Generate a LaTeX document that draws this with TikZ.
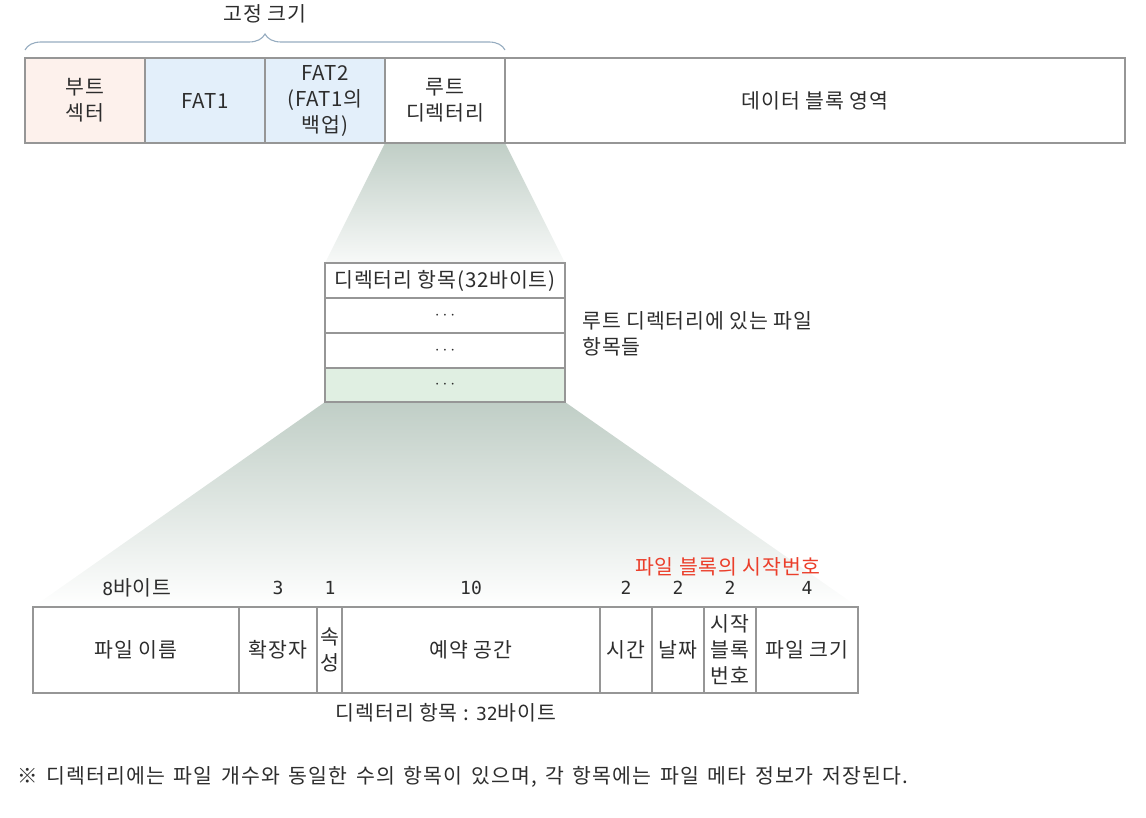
\documentclass[tikz,border=0pt]{standalone}
\usepackage{fontspec}
\setmainfont{Noto Sans CJK KR}[LetterSpace=4]
\newfontfamily\notefont{Noto Sans CJK KR}[LetterSpace=5.5,WordSpace=1.5]
\newfontfamily\numfont{DejaVu Sans Mono}
\usetikzlibrary{decorations.pathreplacing}
\definecolor{edge}{RGB}{150,150,150}
\definecolor{txt}{RGB}{45,45,45}
\definecolor{bootfill}{RGB}{253,241,236}
\definecolor{fatfill}{RGB}{227,239,250}
\definecolor{greenfill}{RGB}{224,239,226}
\definecolor{shd}{RGB}{192,206,198}
\definecolor{bracecol}{RGB}{150,172,192}
\definecolor{redtxt}{RGB}{235,62,42}
\begin{document}
\begin{tikzpicture}[x=1pt,y=-1pt,font=\fontsize{20.5}{26}\selectfont,text=txt,
  cellbox/.style={draw=edge,line width=1.8pt,inner sep=0pt,align=center},
  numlab/.style={font=\fontsize{18}{20}\selectfont\numfont}]
\useasboundingbox (0,0) rectangle (1146,818);

% zoom shadings
\shade[top color=shd,bottom color=white!88!shd] (385,143) -- (505,143) -- (565,263) -- (325,263) -- cycle;
\shade[top color=shd,bottom color=white] (325,402) -- (565,402) -- (858,607) -- (33,607) -- cycle;

% top bar
\node[cellbox,fill=bootfill,minimum width=120,minimum height=85] (boot) at (85,100.5) {부트\\섹터};
\node[cellbox,fill=fatfill,minimum width=120,minimum height=85] (fat1) at (205,100.5) {FAT1};
\node[cellbox,fill=fatfill,minimum width=120,minimum height=85] (fat2) at (325,100.5) {FAT2\\(FAT1의\\백업)};
\node[cellbox,fill=white,minimum width=120,minimum height=85] (root) at (445,100.5) {루트\\디렉터리};
\node[cellbox,fill=white,minimum width=620,minimum height=85] (data) at (815,100.5) {데이터 블록 영역};

% brace
\coordinate (bl) at (25,50);
\coordinate (br) at (505,50);
\draw[bracecol,line width=1.1pt,decorate,decoration={brace,amplitude=16pt}] (bl) -- (br);
\node (fixed) at (265,14) {고정 크기};

% directory table
\node[cellbox,fill=white,minimum width=240,minimum height=35] (d1) at (445,280.5) {디렉터리 항목(32바이트)};
\node[cellbox,fill=white,minimum width=240,minimum height=35] (d2) at (445,315.5) {\fontsize{17}{17}\selectfont$\cdots$};
\node[cellbox,fill=white,minimum width=240,minimum height=35] (d3) at (445,350.5) {\fontsize{17}{17}\selectfont$\cdots$};
\node[cellbox,fill=greenfill,minimum width=240,minimum height=34] (d4) at (445,385) {\fontsize{17}{17}\selectfont$\cdots$};
\node[anchor=west,align=left] (rootlab) at (579,334) {루트 디렉터리에 있는 파일\\항목들};

% bottom entry table
\node[cellbox,fill=white,minimum width=206,minimum height=86] (fname) at (136,650) {파일 이름};
\node[cellbox,fill=white,minimum width=78,minimum height=86] (ext) at (278,650) {확장자};
\node[cellbox,fill=white,minimum width=25,minimum height=86] (attr) at (329.5,650) {속\\성};
\node[cellbox,fill=white,minimum width=258,minimum height=86] (resv) at (471,650) {예약 공간};
\node[cellbox,fill=white,minimum width=52,minimum height=86] (time) at (626,650) {시간};
\node[cellbox,fill=white,minimum width=52,minimum height=86] (date) at (678,650) {날짜};
\node[cellbox,fill=white,minimum width=52,minimum height=86] (start) at (730,650) {시작\\블록\\번호};
\node[cellbox,fill=white,minimum width=102,minimum height=86] (fsize) at (807,650) {파일 크기};

% byte counts
\node (n1) at (137,588) {{\numfont\fontsize{18}{20}\selectfont 8}바이트};
\node[numlab] (n2) at (278,588) {3};
\node[numlab] (n3) at (330,588) {1};
\node[numlab] (n4) at (471,588) {10};
\node[numlab] (n5) at (626,588) {2};
\node[numlab] (n6) at (678,588) {2};
\node[numlab] (n7) at (730,588) {2};
\node[numlab] (n8) at (807,588) {4};
\node[text=redtxt] (startlab) at (728,567) {파일 블록의 시작번호};

\node (cap) at (446,713) {디렉터리 항목 : {\numfont\fontsize{18}{20}\selectfont 32}바이트};
\node[anchor=west,font=\fontsize{20.5}{26}\notefont] (note) at (14,777) {※ 디렉터리에는 파일 개수와 동일한 수의 항목이 있으며, 각 항목에는 파일 메타 정보가 저장된다.};
\end{tikzpicture}
\end{document}
